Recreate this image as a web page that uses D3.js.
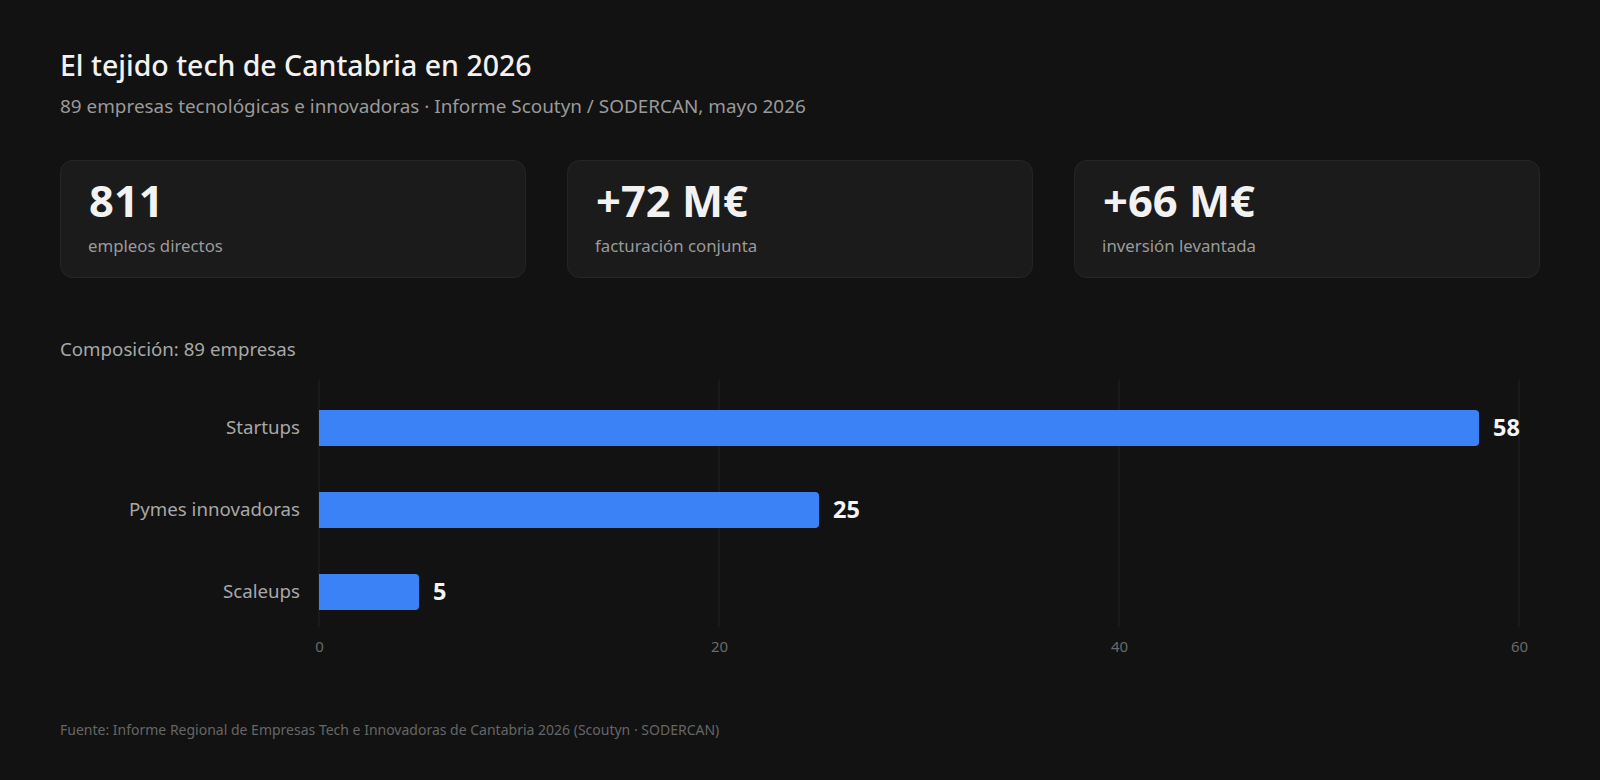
<!DOCTYPE html>
<html>
<head>
<meta charset="utf-8">
<script src="https://cdn.jsdelivr.net/npm/d3@7"></script>
<style>
  html, body { margin: 0; padding: 0; background: #121212; }
  svg { display: block; font-family: "Noto Sans", "Open Sans", sans-serif; }
</style>
</head>
<body>
<svg id="chart"></svg>
<script>
// KPI cards
const kpiValues = ['811', '+72 M€', '+66 M€'];
const kpiLabels = ['empleos directos', 'facturación conjunta', 'inversión levantada'];

// bar chart
const categories = ['Startups', 'Pymes innovadoras', 'Scaleups'];
const counts = [58, 25, 5];
const xTicks = [0, 20, 40, 60];

const width = 1600, height = 780;
const left = 60, right = 1540;

const svg = d3.select('#chart')
    .attr('width', width)
    .attr('height', height);

svg.append('rect')
    .attr('width', width).attr('height', height)
    .attr('fill', '#121212');

// header
svg.append('text')
    .attr('x', left).attr('y', 76)
    .attr('fill', '#f2f2f2')
    .attr('font-size', 28.5)
    .attr('font-weight', 500)
    .text('El tejido tech de Cantabria en 2026');

svg.append('text')
    .attr('x', left).attr('y', 113)
    .attr('fill', '#9a9a9a')
    .attr('font-size', 18.9)
    .text('89 empresas tecnológicas e innovadoras · Informe Scoutyn / SODERCAN, mayo 2026');

// cards
const cardX = d3.scaleBand()
    .domain(d3.range(kpiValues.length))
    .range([left, right])
    .paddingInner(40 / ((right - left) / 3));

const card = svg.selectAll('.card')
    .data(kpiValues.map((v, i) => ({ value: v, label: kpiLabels[i], i })))
    .join('g')
    .attr('class', 'card')
    .attr('transform', d => `translate(${cardX(d.i)},160)`);

card.append('rect')
    .attr('x', 0.5).attr('y', 0.5)
    .attr('width', cardX.bandwidth() - 1)
    .attr('height', 117)
    .attr('rx', 12)
    .attr('fill', '#1b1b1b')
    .attr('stroke', '#262626');

card.append('text')
    .attr('x', 29).attr('y', 57)
    .attr('fill', '#f2f2f2')
    .attr('font-size', 43.5)
    .attr('font-weight', 700)
    .text(d => d.value);

card.append('text')
    .attr('x', 28).attr('y', 92)
    .attr('fill', '#9a9a9a')
    .attr('font-size', 16.8)
    .text(d => d.label);

// section label
svg.append('text')
    .attr('x', left).attr('y', 356)
    .attr('fill', '#a8a8a8')
    .attr('font-size', 18.7)
    .text('Composición: 89 empresas');

// bar chart
const gridTop = 380, gridBottom = 627;

const x = d3.scaleLinear()
    .domain([0, 60])
    .range([319, 1519]);

const y = d3.scaleBand()
    .domain(categories)
    .range([369, 651])
    .paddingInner(0.56)
    .paddingOuter(0.5);

const chart = svg.append('g');

chart.selectAll('.grid')
    .data(xTicks)
    .join('line')
    .attr('class', 'grid')
    .attr('x1', d => x(d)).attr('x2', d => x(d))
    .attr('y1', gridTop).attr('y2', gridBottom)
    .attr('stroke', '#222222')
    .attr('stroke-width', 1);

const xAxis = chart.append('g')
    .attr('transform', `translate(0,${gridBottom})`)
    .call(d3.axisBottom(x).tickValues(xTicks).tickSize(0).tickPadding(14));
xAxis.select('.domain').remove();
xAxis.selectAll('text')
    .attr('fill', '#6a6a6a')
    .attr('font-size', 15)
    .attr('font-family', '"Noto Sans", sans-serif');

const yAxis = chart.append('g')
    .attr('transform', `translate(${x(0)},0)`)
    .call(d3.axisLeft(y).tickSize(0).tickPadding(19));
yAxis.select('.domain').remove();
yAxis.selectAll('text')
    .attr('fill', '#a8a8a8')
    .attr('font-size', 18.7)
    .attr('font-family', '"Noto Sans", sans-serif');

// bars: square left end, rounded right end
const r = 4;
function barPath(d) {
    const x0 = x(0), x1 = x(d.value), y0 = y(d.cat), h = y.bandwidth();
    return `M${x0},${y0}H${x1 - r}Q${x1},${y0} ${x1},${y0 + r}` +
        `V${y0 + h - r}Q${x1},${y0 + h} ${x1 - r},${y0 + h}H${x0}Z`;
}

const rows = categories.map((c, i) => ({ cat: c, value: counts[i] }));

chart.selectAll('.bar')
    .data(rows)
    .join('path')
    .attr('class', 'bar')
    .attr('d', barPath)
    .attr('fill', '#3b82f6');

chart.selectAll('.bar-label')
    .data(rows)
    .join('text')
    .attr('class', 'bar-label')
    .attr('x', d => x(d.value) + 14)
    .attr('y', d => y(d.cat) + y.bandwidth() / 2)
    .attr('dy', '0.35em')
    .attr('fill', '#f5f5f5')
    .attr('font-size', 23.5)
    .attr('font-weight', 700)
    .text(d => d.value);

// footer
svg.append('text')
    .attr('x', left).attr('y', 735)
    .attr('fill', '#666666')
    .attr('font-size', 14)
    .text('Fuente: Informe Regional de Empresas Tech e Innovadoras de Cantabria 2026 (Scoutyn · SODERCAN)');
</script>
</body>
</html>
